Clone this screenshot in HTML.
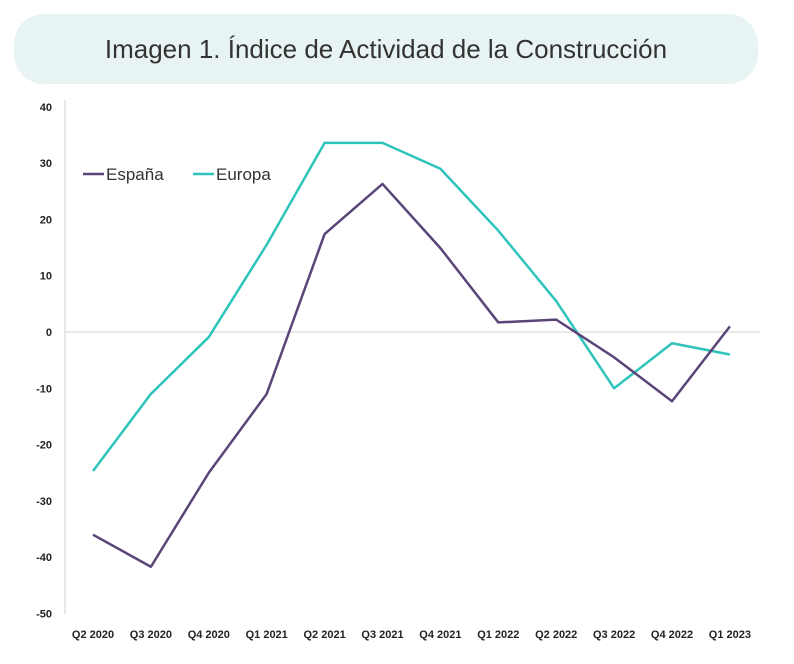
<!DOCTYPE html>
<html><head><meta charset="utf-8"><style>
body{margin:0;background:#fff;width:794px;height:664px;overflow:hidden;font-family:"Liberation Sans",sans-serif}
#title{position:absolute;left:14px;top:14px;width:744px;height:70px;border-radius:30px;background:#e8f4f3;color:#333;font-size:26px;line-height:70px;text-align:center}
svg{position:absolute;left:0;top:0}
</style></head><body>
<div id="title">Imagen 1. Índice de Actividad de la Construcción</div>
<svg id="c" width="794" height="664"></svg>
<script>
const categories=["Q2 2020","Q3 2020","Q4 2020","Q1 2021","Q2 2021","Q3 2021","Q4 2021","Q1 2022","Q2 2022","Q3 2022","Q4 2022","Q1 2023"];
const espana=[-36,-41.7,-25,-11,17.4,26.3,14.9,1.7,2.2,-4.5,-12.3,1];
const europa=[-24.7,-11,-0.9,15.5,33.6,33.6,29,18,5.5,-10,-2,-4];
const yTicks=[40,30,20,10,0,-10,-20,-30,-40,-50];
const svg=document.getElementById('c');const NS='http://www.w3.org/2000/svg';
const y=v=>332-v*5.63;const x=i=>93+i*57.9;
function mk(t,a,p){const e=document.createElementNS(NS,t);for(const k in a)e.setAttribute(k,a[k]);(p||svg).appendChild(e);return e;}
const ax=mk('line',{x1:65,x2:65,y1:100,y2:614,stroke:'#d0d0d0','stroke-width':1});


const zl=mk('line',{x1:65,x2:760,y1:y(0),y2:y(0),stroke:'#d0d0d0','stroke-width':1});


yTicks.forEach(v=>{const t=mk('text',{x:52,y:y(v)+4,'text-anchor':'end','font-size':11,'font-weight':'bold',fill:'#222'});t.textContent=v;

});
categories.forEach((c,i)=>{const t=mk('text',{x:x(i),y:638,'text-anchor':'middle','font-size':11,'font-weight':'bold',fill:'#222'});t.textContent=c;

});
function line(d,col,name){const p=mk('polyline',{points:d.map((v,i)=>x(i)+','+y(v)).join(' '),fill:'none',stroke:col,'stroke-width':2.5,'stroke-linejoin':'round'});

}
line(europa,'#2ec4bc','europa-line');
line(espana,'#5a4578','espana-line');
const l1=mk('line',{x1:83,x2:104,y1:174,y2:174,stroke:'#5a4578','stroke-width':2.5});


const t1=mk('text',{x:106,y:180,'font-size':17,fill:'#333'});t1.textContent='España';


const l2=mk('line',{x1:193,x2:214,y1:174,y2:174,stroke:'#2ec4bc','stroke-width':2.5});


const t2=mk('text',{x:216,y:180,'font-size':17,fill:'#333'});t2.textContent='Europa';


</script>
</body></html>
